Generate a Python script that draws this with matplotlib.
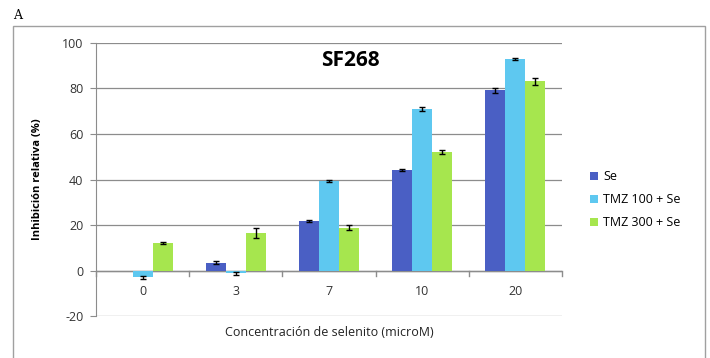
import numpy as np
import matplotlib.pyplot as plt
from matplotlib.patches import Rectangle

# concentraciones de selenito y series
categorias = ["0", "3", "7", "10", "20"]
series = ["Se", "TMZ 100 + Se", "TMZ 300 + Se"]
se = [0.0, 3.5, 21.8, 44.3, 79.2]
tmz100 = [-3.0, -1.3, 39.4, 70.9, 93.0]
tmz300 = [12.0, 16.5, 18.8, 52.0, 83.1]
err_se = [0.0, 0.8, 0.4, 0.4, 1.0]
err_tmz100 = [0.6, 0.6, 0.4, 0.8, 0.3]
err_tmz300 = [0.4, 2.0, 1.0, 0.8, 1.4]

colores = ["#4a5fc4", "#5ec8f0", "#a6e64e"]
plt.rcParams['font.family'] = ['Open Sans', 'DejaVu Sans']
plt.rcParams['axes.unicode_minus'] = False

fig = plt.figure(figsize=(7.1, 3.58), dpi=100)
fig.patch.set_facecolor("white")

# marco exterior y letra del panel
fig.patches.append(Rectangle((0.0183, -0.02), 0.9746, 0.9474, transform=fig.transFigure,
                             fill=False, edgecolor="#a0a0a0", lw=1.0))
fig.text(0.018, 0.958, "A", family="DejaVu Serif", fontsize=9, va="center", ha="left")

ax = fig.add_axes([0.1352, 0.1173, 0.6563, 0.7626])
x = np.arange(len(categorias))
w = 0.215
valores = [se, tmz100, tmz300]
errores = [err_se, err_tmz100, err_tmz300]
for i, (v, e) in enumerate(zip(valores, errores)):
    pos = x + (i - 1) * w
    ax.bar(pos, v, w, color=colores[i], label=series[i], zorder=3)
    v = np.array(v)
    e = np.array(e)
    m = e > 0
    ax.errorbar(pos[m], v[m], yerr=e[m], fmt="none", ecolor="black", elinewidth=1,
                capsize=2.5, capthick=1, zorder=4)

ax.set_xlim(-0.5, len(categorias) - 0.5)
ax.set_ylim(-20, 100)
ax.set_yticks(np.arange(-20, 101, 20))
ax.yaxis.grid(True, color="#8c8c8c", lw=0.9, zorder=0)
ax.tick_params(axis="y", length=4, color="#8c8c8c", labelsize=9, labelcolor="#333333", pad=5)
ax.set_xticks([])
for s in ["top", "right", "bottom"]:
    ax.spines[s].set_visible(False)
ax.spines["left"].set_color("#8c8c8c")

# eje en cero con marcas entre categorias
ax.axhline(0, color="#8c8c8c", lw=1, zorder=2)
for b in np.arange(-0.5, len(categorias), 1.0):
    ax.plot([b, b], [0, -2.2], color="#8c8c8c", lw=1, clip_on=False, zorder=2)
for xi, c in zip(x, categorias):
    ax.text(xi, -9.3, c, ha="center", va="center", fontsize=9, color="#333333")

ax.text(0.545, 0.935, "SF268", transform=ax.transAxes, ha="center", va="center",
        fontsize=15, fontweight="bold")
ax.set_ylabel("Inhibición relativa (%)", fontsize=8, fontweight="bold", labelpad=14)
ax.text(0.5, -0.06, "Concentración de selenito (microM)", transform=ax.transAxes,
        ha="center", va="center", fontsize=9, color="#222222")

ax.legend(loc="upper left", bbox_to_anchor=(1.035, 0.575), frameon=False, fontsize=9,
          handlelength=0.7, handleheight=0.7, handletextpad=0.4, labelspacing=0.8)

fig.savefig("out.png", dpi=100)
